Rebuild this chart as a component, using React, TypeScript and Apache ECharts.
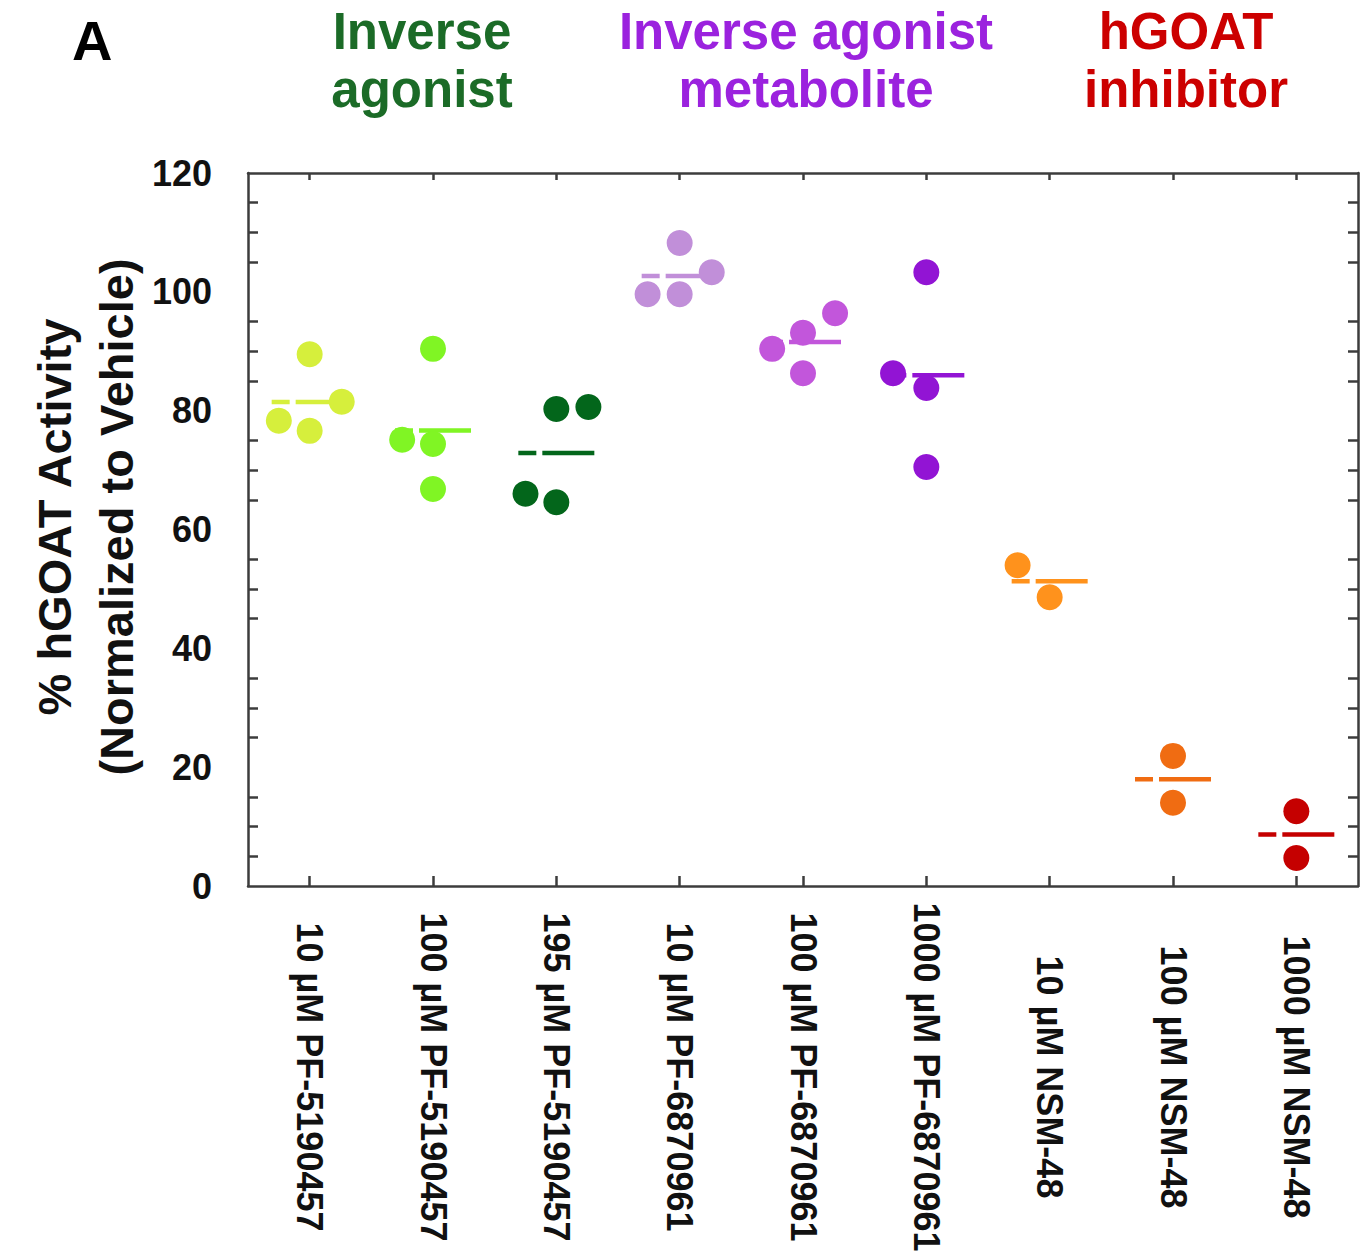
import React, { useEffect, useRef } from "react";
import * as echarts from "echarts";

const categories = [
  "10 µM PF-5190457",
  "100 µM PF-5190457",
  "195 µM PF-5190457",
  "10 µM PF-6870961",
  "100 µM PF-6870961",
  "1000 µM PF-6870961",
  "10 µM NSM-48",
  "100 µM NSM-48",
  "1000 µM NSM-48",
];

const groupColors = [
  "#d6ef3c",
  "#80f524",
  "#03661b",
  "#c18fd9",
  "#c256db",
  "#9214d4",
  "#ff921c",
  "#f06c12",
  "#c50000",
];

// replicate values (% activity) per category
const values: number[][] = [
  [89.5, 78.3, 76.6, 81.5],
  [90.4, 75.1, 74.4, 66.8],
  [80.3, 80.6, 66.0, 64.6],
  [108.2, 99.6, 99.6, 103.3],
  [96.4, 93.1, 90.4, 86.3],
  [103.3, 86.3, 83.8, 70.5],
  [54.0, 48.6],
  [21.9, 14.0],
  [12.6, 4.7],
];

// horizontal jitter of each replicate, in category widths
const jitter: number[][] = [
  [0, -0.25, 0, 0.26],
  [0, -0.25, 0, 0],
  [0, 0.26, -0.25, 0],
  [0, -0.26, 0, 0.26],
  [0.26, 0, -0.25, 0],
  [0, -0.27, 0, 0],
  [-0.26, 0],
  [0, 0],
  [0, 0],
];

const yTicks = [0, 20, 40, 60, 80, 100, 120];

const groupTitles = [
  { text: "Inverse\nagonist", color: "#1b6b27", x: 422 },
  { text: "Inverse agonist\nmetabolite", color: "#9b22de", x: 806 },
  { text: "hGOAT\ninhibitor", color: "#cc0000", x: 1186 },
];

const FONT = "'Liberation Sans', Arial, Helvetica, sans-serif";
const AXIS_COLOR = "#3c3c3c";

export default function App() {
  const ref = useRef<HTMLDivElement>(null);

  useEffect(() => {
    if (!ref.current) return;
    const chart = echarts.init(ref.current, undefined, { renderer: "svg" });

    const means = values.map(
      (vs) => vs.reduce((a, b) => a + b, 0) / vs.length
    );

    const scatterSeries = values.map((vs, i) => ({
      type: "scatter",
      name: categories[i],
      xAxisIndex: 2,
      yAxisIndex: 0,
      symbol: "circle",
      symbolSize: 26,
      z: 3,
      itemStyle: { color: groupColors[i], opacity: 1 },
      data: vs.map((v, k) => [i + jitter[i][k], v]),
    }));

    const meanSeries = {
      type: "custom",
      name: "mean",
      xAxisIndex: 2,
      yAxisIndex: 0,
      z: 2,
      data: means.map((m, i) => [i, m]),
      renderItem: (params: any, api: any) => {
        const p = api.coord([api.value(0), api.value(1)]);
        return {
          type: "line",
          shape: { x1: p[0] - 38, y1: p[1], x2: p[0] + 38, y2: p[1] },
          style: {
            stroke: groupColors[params.dataIndex],
            lineWidth: 4.5,
            lineDash: [18, 6, 200],
          },
        };
      },
    };

    const makeAxisLine = () => ({
      show: true,
      onZero: false,
      lineStyle: { color: AXIS_COLOR, width: 2.5 },
    });

    const makeYAxis = (position: string, showLabel: boolean) => ({
      type: "value",
      position,
      min: yTicks[0],
      max: yTicks[yTicks.length - 1],
      interval: 20,
      axisLine: makeAxisLine(),
      axisTick: { show: false, inside: true },
      minorTick: {
        show: true,
        splitNumber: 4,
        length: 10,
        lineStyle: { color: AXIS_COLOR, width: 2.5 },
      },
      splitLine: { show: false },
      minorSplitLine: { show: false },
      axisLabel: showLabel
        ? {
            margin: 36,
            fontSize: 36,
            fontWeight: "bold",
            fontFamily: FONT,
            color: "#111",
          }
        : { show: false },
    });

    const makeCatAxis = (position: string, tickLen: number, showLabel: boolean) => ({
      type: "category",
      data: categories,
      position,
      boundaryGap: true,
      axisLine: makeAxisLine(),
      axisTick: {
        show: true,
        inside: true,
        alignWithLabel: true,
        length: tickLen,
        interval: 0,
        lineStyle: { color: AXIS_COLOR, width: 2.5 },
      },
      axisLabel: showLabel
        ? {
            show: true,
            interval: 0,
            rotate: -90,
            align: "center",
            verticalAlign: "middle",
            margin: 191,
            fontSize: 36,
            fontWeight: "bold",
            fontFamily: FONT,
            color: "#111",
          }
        : { show: false, interval: 0 },
      splitLine: { show: false },
    });

    const option: any = {
      animation: false,
      textStyle: { fontFamily: FONT },
      grid: { left: 248, right: 7, top: 173, bottom: 372, containLabel: false },
      xAxis: [
        makeCatAxis("bottom", 10, true),
        makeCatAxis("top", 7, false),
        {
          type: "value",
          min: -0.5,
          max: 8.5,
          show: false,
          axisLine: { onZero: false },
          splitLine: { show: false },
        },
      ],
      yAxis: [makeYAxis("left", true), makeYAxis("right", false)],
      graphic: [
        {
          type: "text",
          x: 72,
          y: 40,
          style: {
            text: "A",
            fontSize: 56,
            fontWeight: "bold",
            fontFamily: FONT,
            fill: "#000",
            align: "left",
            verticalAlign: "middle",
          },
        },
        ...groupTitles.map((t) => ({
          type: "text",
          x: t.x,
          y: 60,
          style: {
            text: t.text,
            fontSize: 51,
            fontWeight: "bold",
            fontFamily: FONT,
            lineHeight: 58,
            fill: t.color,
            align: "center",
            verticalAlign: "middle",
          },
        })),
        {
          type: "text",
          x: 85,
          y: 517,
          rotation: Math.PI / 2,
          style: {
            text: "% hGOAT Activity\n(Normalized to Vehicle)",
            fontSize: 47,
            fontWeight: "bold",
            fontFamily: FONT,
            lineHeight: 62,
            fill: "#111",
            align: "center",
            verticalAlign: "middle",
          },
        },
      ],
      series: [meanSeries, ...scatterSeries],
    };

    chart.setOption(option);
    return () => chart.dispose();
  }, []);

  return (
    <div
      ref={ref}
      style={{ position: "absolute", left: 0, top: 0, width: 1365, height: 1258, background: "#fff" }}
    />
  );
}
